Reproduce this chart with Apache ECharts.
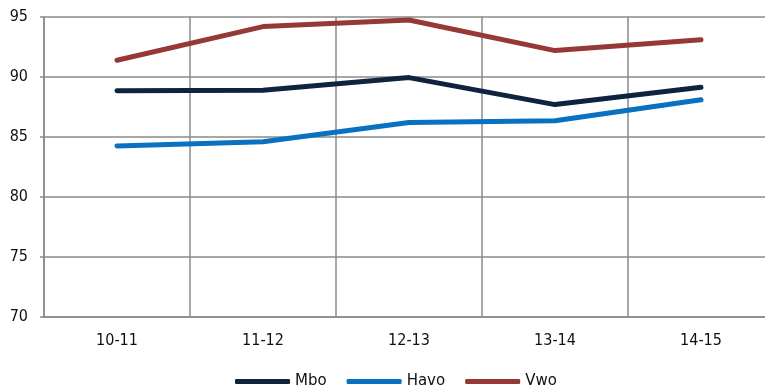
<!DOCTYPE html>
<html>
<head>
<meta charset="utf-8">
<script src="https://cdn.jsdelivr.net/npm/echarts@6/dist/echarts.min.js"></script>
<style>html,body{margin:0;padding:0;background:#fff}#c{width:765px;height:391px}</style>
</head>
<body>
<div id="c"></div>
<script>
const categories = ['10-11', '11-12', '12-13', '13-14', '14-15'];
const mbo = [88.85, 88.9, 89.95, 87.7, 89.15];
const havo = [84.25, 84.6, 86.2, 86.35, 88.1];
const vwo = [91.4, 94.2, 94.75, 92.2, 93.1];
const yTicks = {min: 70, max: 95, interval: 5};

const FONT = '"DejaVu Sans Condensed", "DejaVu Sans", sans-serif';
const GRID = '#8a8a8a';
const chart = echarts.init(document.getElementById('c'));
const mk = (name, data, color) => ({
  name, type: 'line', data, symbol: 'none', smooth: false,
  lineStyle: {width: 5, color, cap: 'round', join: 'round'},
  itemStyle: {color}
});
chart.setOption({
  animation: false,
  grid: {left: 44, top: 17, width: 730, height: 300, containLabel: false, outerBoundsMode: 'none'},
  xAxis: {
    type: 'category', data: categories, boundaryGap: true,
    axisLine: {show: true, lineStyle: {color: GRID, width: 1.5}},
    axisTick: {show: false},
    splitLine: {show: true, lineStyle: {color: GRID, width: 1.5}},
    axisLabel: {color: '#111', fontFamily: FONT, fontSize: 16, margin: 16}
  },
  yAxis: {
    type: 'value', min: yTicks.min, max: yTicks.max, interval: yTicks.interval,
    axisLine: {show: true, lineStyle: {color: GRID, width: 1.5}},
    axisTick: {show: true, length: 4, lineStyle: {color: GRID, width: 1.5}},
    splitLine: {show: true, lineStyle: {color: GRID, width: 1.5}},
    axisLabel: {color: '#111', fontFamily: FONT, fontSize: 16, margin: 16}
  },
  legend: {
    data: ['Mbo', 'Havo', 'Vwo'], top: 369, left: 230,
    icon: 'roundRect', itemWidth: 55, itemHeight: 5, itemGap: 20,
    textStyle: {color: '#111', fontFamily: '"DejaVu Sans", sans-serif', fontSize: 15}
  },
  series: [
    mk('Mbo', mbo, '#0f2340'),
    mk('Havo', havo, '#0a70c0'),
    mk('Vwo', vwo, '#963836')
  ]
});
</script>
</body>
</html>
